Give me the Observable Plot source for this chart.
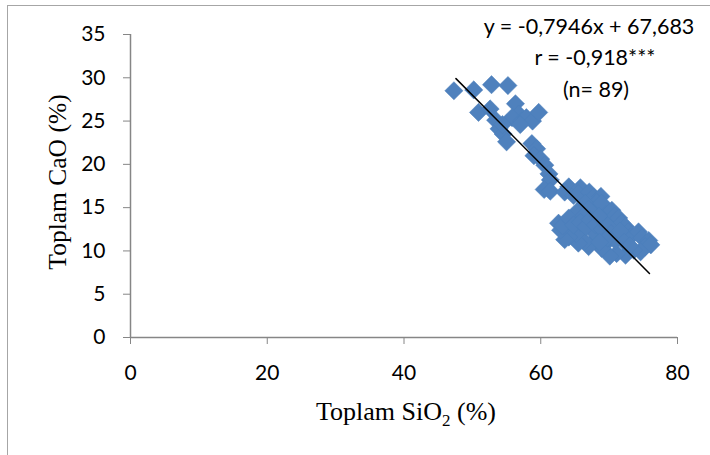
<!DOCTYPE html>
<html>
<head>
<meta charset="utf-8">
<script src="https://cdn.jsdelivr.net/npm/d3@7"></script>
<script src="https://cdn.jsdelivr.net/npm/@observablehq/plot@0.6"></script>
<style>
  html, body { margin: 0; padding: 0; background: #fff; }
  #wrap { position: relative; width: 710px; height: 455px; overflow: hidden; }
  #frame { position: absolute; left: 7px; top: 5px; width: 720px; height: 460px; border: 1px solid #a6a6a6; box-sizing: border-box; }
  #chart { position: absolute; left: 0; top: 0; }
</style>
</head>
<body>
<div id="wrap"><div id="frame"></div><div id="chart"></div></div>
<script>
const sio2 = [
  47.3, 50.2, 52.8, 55.2, 50.9, 52.6, 53.4, 53.9, 54.5, 55.0,
  56.3, 56.8, 55.8, 57.2, 57.9, 58.8, 59.7, 58.7, 59.4, 59.0,
  60.0, 60.6, 61.2, 61.4, 60.5, 61.4, 54.4, 57.0,
  64.1, 63.5, 64.8, 65.8, 65.5, 67.1, 67.7, 68.8, 68.2, 66.5,
  67.0, 65.5, 66.2, 68.9, 69.5, 70.4, 70.8, 71.4, 71.8, 72.4,
  72.8, 73.1, 74.3, 74.8, 75.8, 75.3, 76.1, 74.6, 73.6, 72.4,
  71.1, 70.1, 69.4, 68.9, 68.2, 67.0, 67.6, 66.4, 65.5, 65.2,
  64.1, 63.5, 62.9, 62.6, 63.2, 64.1, 64.8, 65.8, 66.6, 67.2,
  68.0, 68.5, 69.0, 69.8, 70.3, 70.9, 71.6, 72.2, 73.0, 69.8,
  68.6
];
const cao = [
  28.5, 28.6, 29.2, 29.1, 26.0, 26.4, 25.1, 24.1, 23.5, 22.6,
  27.0, 25.8, 25.4, 25.0, 25.4, 25.0, 26.0, 22.4, 21.8, 21.0,
  20.6, 19.9, 18.9, 18.2, 17.1, 16.9, 24.6, 24.6,
  17.4, 16.8, 16.4, 17.3, 16.6, 16.8, 16.2, 16.3, 15.6, 15.5,
  14.8, 14.7, 14.0, 15.5, 14.2, 14.7, 14.0, 13.8, 13.2, 12.8,
  12.2, 11.6, 12.2, 11.5, 11.2, 10.5, 10.7, 9.9, 10.1, 9.5,
  9.7, 9.4, 10.8, 10.3, 11.5, 10.5, 12.3, 11.1, 10.9, 12.0,
  11.6, 11.3, 12.4, 13.2, 12.9, 13.8, 13.0, 13.3, 12.8, 13.6,
  13.0, 14.0, 12.5, 12.9, 12.0, 11.2, 12.3, 11.0, 10.6, 11.5,
  11.0
];
const trendX = [47.6, 75.9];
const trendY = [29.9, 7.4];
const xTicks = [0, 20, 40, 60, 80];
const yTicks = [0, 5, 10, 15, 20, 25, 30, 35];
const annotLines = ["y = -0,7946x + 67,683", "r = -0,918***", "(n= 89)"];

const points = sio2.map((x, i) => ({x, y: cao[i]}));
const trend = trendX.map((x, i) => ({x, y: trendY[i]}));

const axisColor = "#868686";
const tickFont = "Lato, 'Open Sans', sans-serif";

const plot = Plot.plot({
  width: 710,
  height: 455,
  marginLeft: 130,
  marginRight: 33,
  marginTop: 34,
  marginBottom: 118,
  style: {fontFamily: tickFont, fontSize: "21px", color: "#000", background: "transparent", overflow: "visible"},
  x: {domain: [0, 80]},
  y: {domain: [0, 35]},
  marks: [
    Plot.axisX({ticks: xTicks, tickSize: 7, tickPadding: 21, stroke: axisColor, strokeOpacity: 1, fill: "#000", fontSize: 21, label: null}),
    Plot.axisY({ticks: yTicks, tickSize: 7, tickPadding: 18, stroke: axisColor, strokeOpacity: 1, fill: "#000", fontSize: 21, label: null}),
    Plot.ruleX([0], {y1: 0, y2: 35, stroke: axisColor, strokeWidth: 1.5}),
    Plot.ruleY([0], {x1: 0, x2: 80, stroke: axisColor, strokeWidth: 1.5}),
    Plot.dot(points, {x: "x", y: "y", symbol: "diamond2", r: 8.2, fill: "#4F81BD", stroke: "#4A7EBB", strokeWidth: 0.5}),
    Plot.line(trend, {x: "x", y: "y", stroke: "#000", strokeWidth: 1.5})
  ]
});
document.getElementById("chart").appendChild(plot);

// Annotation and axis titles as SVG text
const svg = d3.select(plot);
const ann = svg.append("g").attr("font-family", tickFont).attr("font-size", 21.5).attr("text-anchor", "middle").attr("fill", "#000");
const annX = [589, 595, 596];
const annY = [34, 65, 97];
annotLines.forEach((t, i) => ann.append("text").attr("x", annX[i]).attr("y", annY[i]).text(t));

const serif = "'Liberation Serif', 'Times New Roman', serif";
const xt = svg.append("text").attr("x", 406).attr("y", 420).attr("text-anchor", "middle")
  .attr("font-family", serif).attr("font-size", 26).attr("fill", "#000");
xt.append("tspan").text("Toplam SiO");
xt.append("tspan").attr("font-size", 17).attr("dy", 6).text("2");
xt.append("tspan").attr("dy", -6).text(" (%)");

svg.append("text").attr("transform", "translate(66,182) rotate(-90)").attr("text-anchor", "middle")
  .attr("font-family", serif).attr("font-size", 25.5).attr("fill", "#000").text("Toplam CaO (%)");
</script>
</body>
</html>
